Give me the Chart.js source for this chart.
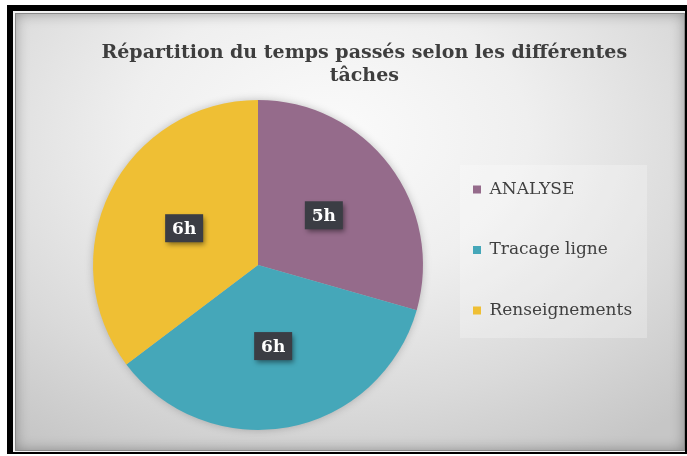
<!DOCTYPE html>
<html>
<head>
<meta charset="utf-8">
<script src="https://cdn.jsdelivr.net/npm/chart.js@4/dist/chart.umd.min.js"></script>
<style>
  html, body { margin: 0; padding: 0; background: #ffffff; }
  #page { position: relative; width: 687px; height: 456px; overflow: hidden; background: #fff; }
  #outer { position: absolute; left: 7px; top: 5px; width: 680px; height: 449px; background: #000; }
  #inner { position: absolute; left: 6px; top: 6px; right: 2px; bottom: 2px;
           border-left: 2px solid #f2f2f2; border-top: 2px solid #f2f2f2; border-bottom: 1px solid #f2f2f2;
           background: radial-gradient(ellipse 78% 85% at 47% 28%, #fbfbfb 0%, #efefef 38%, #dadada 72%, #c6c6c6 100%);
           box-shadow: inset 0 0 0 1px #8a8a8a, inset 0 0 14px rgba(0,0,0,0.35); }
  #c { position: absolute; left: 0; top: 0; }
</style>
</head>
<body>
<div id="page">
  <div id="outer"><div id="inner"></div></div>
  <canvas id="c" width="687" height="456"></canvas>
</div>
<script>
// ---- data ----
const categories = ['ANALYSE', 'Tracage ligne', 'Renseignements'];
const hours = [5, 6, 6];
const unitSuffix = 'h';
const sliceColors = ['#956b8b', '#45a7b9', '#efbf34'];
const titleLines = ['Répartition du temps passés selon les différentes', 'tâches'];

Chart.defaults.font.family = 'DejaVu Serif';

// ---- layout helpers ----
const LEGEND_FONT = 17;
const LEGEND_PAD = 43.5;
const LEGEND_BOX = 8;
const mctx = document.createElement('canvas').getContext('2d');
mctx.font = LEGEND_FONT + "px 'DejaVu Serif'";
const tw = Math.max(...categories.map(c => mctx.measureText(c).width));
const legendW = LEGEND_PAD + LEGEND_BOX + LEGEND_FONT / 2 + tw + 10;
const legendLeft = 473 - LEGEND_PAD;
const leftPad = 2 * 258 - legendLeft;
const rightPad = 687 - (legendLeft + legendW);

const legendShift = {
  id: 'legendShift',
  afterLayout(chart) {
    const lg = chart.legend;
    const mid = (lg.top + lg.bottom) / 2;
    const d = 250 - mid;
    lg.top += d; lg.bottom += d;
  },
  beforeDraw(chart) {
    const ctx = chart.ctx;
    const lg = chart.legend;
    const mid = (lg.top + lg.bottom) / 2;
    const x = lg.left + LEGEND_PAD - 13;
    ctx.save();
    ctx.fillStyle = 'rgba(255,255,255,0.25)';
    ctx.fillRect(x, mid - 85, 187, 173);
    ctx.restore();
  }
};

const pieShadow = {
  id: 'pieShadow',
  beforeDatasetsDraw(chart) {
    const arc = chart.getDatasetMeta(0).data[0];
    if (!arc) return;
    const ctx = chart.ctx;
    ctx.save();
    ctx.shadowColor = 'rgba(0,0,0,0.28)';
    ctx.shadowBlur = 10;
    ctx.fillStyle = '#bbbbbb';
    ctx.beginPath();
    ctx.arc(arc.x, arc.y, arc.outerRadius - 1, 0, Math.PI * 2);
    ctx.fill();
    ctx.restore();
  }
};

const valueLabels = {
  id: 'valueLabels',
  afterDatasetsDraw(chart) {
    const ctx = chart.ctx;
    const meta = chart.getDatasetMeta(0);
    meta.data.forEach((arc, i) => {
      const p = arc.tooltipPosition(true);
      const txt = hours[i] + unitSuffix;
      const w = 38, h = 28;
      ctx.save();
      ctx.shadowColor = 'rgba(0,0,0,0.45)';
      ctx.shadowBlur = 5;
      ctx.shadowOffsetX = 2;
      ctx.shadowOffsetY = 3;
      ctx.fillStyle = '#3b3d44';
      ctx.fillRect(p.x - w / 2, p.y - h / 2, w, h);
      ctx.restore();
      ctx.save();
      ctx.fillStyle = '#ffffff';
      ctx.font = "bold 17px 'DejaVu Serif'";
      ctx.textAlign = 'center';
      ctx.textBaseline = 'middle';
      ctx.fillText(txt, p.x, p.y + 1);
      ctx.restore();
    });
  }
};

new Chart(document.getElementById('c'), {
  type: 'pie',
  data: {
    labels: categories,
    datasets: [{
      data: hours,
      backgroundColor: sliceColors,
      borderWidth: 0
    }]
  },
  options: {
    responsive: false,
    animation: false,
    devicePixelRatio: 1,
    radius: 165,
    layout: { padding: { left: leftPad, right: rightPad, top: 26, bottom: 26 } },
    plugins: {
      title: {
        display: true,
        text: titleLines,
        color: '#3e3e3e',
        font: { family: 'DejaVu Serif', weight: 'bold', size: 19, lineHeight: 1.21 },
        padding: { top: 15.5, bottom: 12.5 }
      },
      legend: {
        display: true,
        position: 'right',
        align: 'center',
        labels: {
          color: '#404040',
          font: { family: 'DejaVu Serif', size: LEGEND_FONT },
          boxWidth: LEGEND_BOX,
          boxHeight: LEGEND_BOX,
          padding: LEGEND_PAD
        }
      },
      tooltip: { enabled: false }
    }
  },
  plugins: [legendShift, pieShadow, valueLabels]
});
</script>
</body>
</html>
